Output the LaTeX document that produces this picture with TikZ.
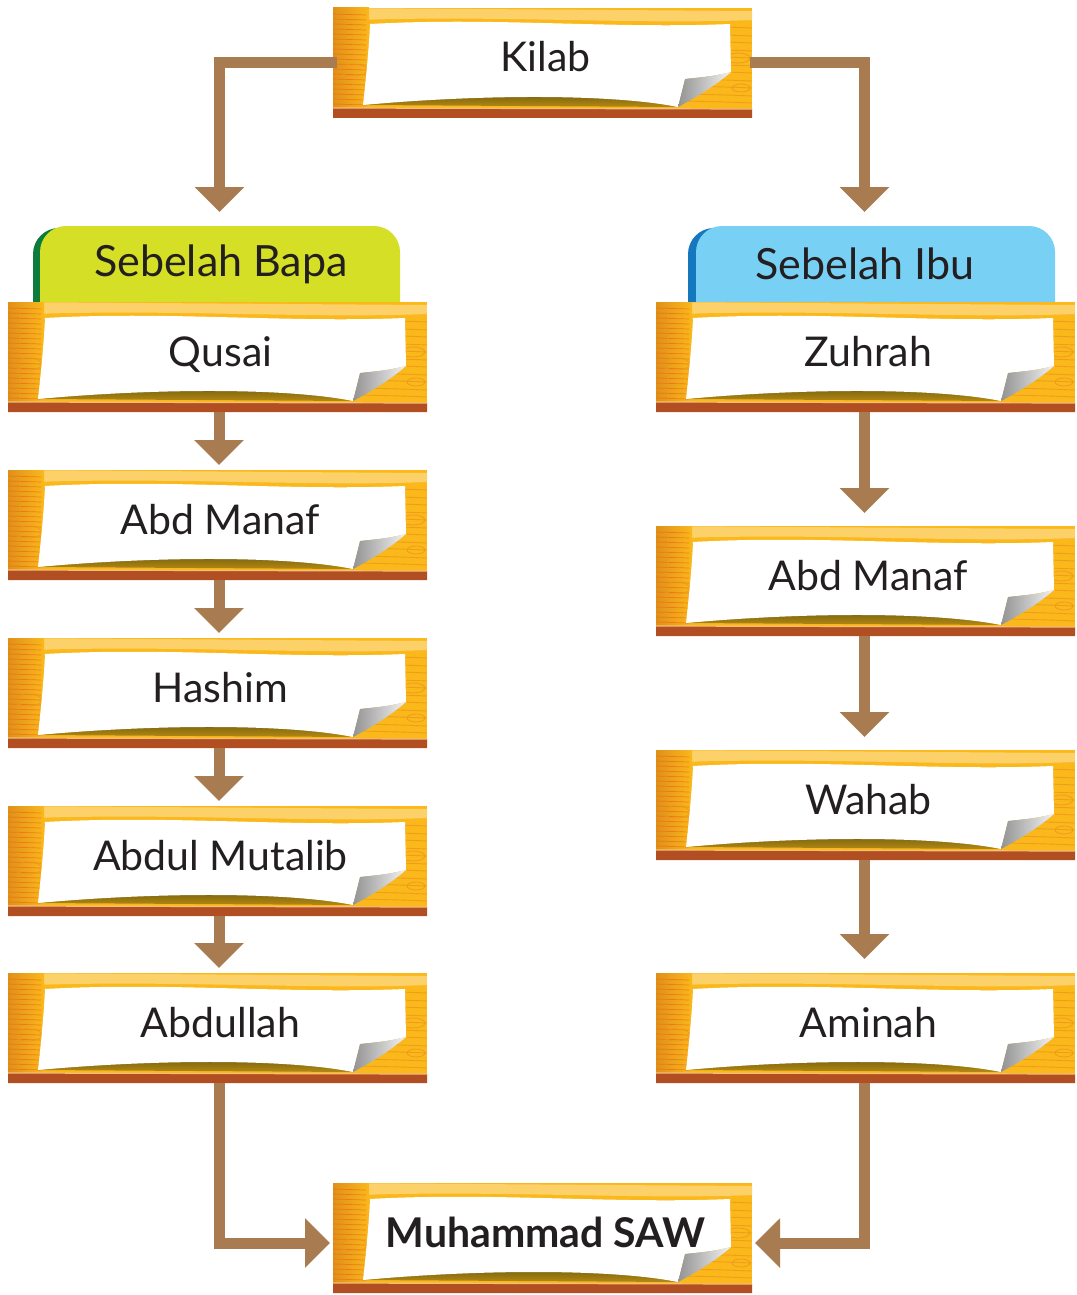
\documentclass[tikz,border=0pt]{standalone}
\usepackage{fontspec}
\setmainfont{Lato}
\usetikzlibrary{arrows.meta,calc}
\definecolor{wood}{HTML}{FAB81B}
\definecolor{woodlight}{HTML}{FDD16A}
\definecolor{grain}{HTML}{EE931C}
\definecolor{woodend}{HTML}{E0901A}
\definecolor{woodedge}{HTML}{B24F22}
\definecolor{olive}{HTML}{6E5B0C}
\definecolor{arrowc}{HTML}{A97B50}
\definecolor{tabgreen}{HTML}{D5DF26}
\definecolor{tabgreendk}{HTML}{0C7B3B}
\definecolor{tabblue}{HTML}{78D0F5}
\definecolor{tabbluedk}{HTML}{1577BD}
\definecolor{ink}{HTML}{231F20}

% wooden board art, local coordinates 0..419 x 0..110 (y downwards)
\newcommand\woodart{%
    \fill[wood] (0,0) rectangle (419,110);
    \fill[woodlight] (0,0) -- (419,3) -- (419,12) .. controls (300,17) and (150,6) .. (0,13) -- cycle;
    \foreach \yy in {18,26,33,41,48,56,63,71,78,86,93} {
      \draw[grain, line width=0.9pt, opacity=.75] (0,\yy) .. controls (140,\yy+4) and (280,\yy-4) .. (419,\yy+2);
    }
    \shade[left color=woodend, right color=wood] (0,0) rectangle (36,101);
    \foreach \yy in {6,11,...,96} { \draw[grain!70!red, line width=.7pt, opacity=.7] (0,\yy) -- (33,\yy+1); }
    \draw[grain, line width=.8pt, opacity=.8] (20,62) ellipse (14 and 6);
    \draw[grain, line width=.8pt, opacity=.8] (405,50) ellipse (12 and 5);
    \draw[grain, line width=.8pt, opacity=.8] (408,80) ellipse (9 and 4);
    \fill[woodedge] (0,100) -- (419,101) -- (419,110) -- (0,110) -- cycle;
    \draw[grain!60!white, line width=1.2pt] (0,100) -- (419,101);
    \shade[top color=olive, bottom color=olive!50!wood] (30,97) .. controls (150,84) and (280,84) .. (345,99) -- cycle;
    \fill[white] (37,16) .. controls (160,9) and (280,21) .. (397,16) -- (398,64)
      .. controls (380,68) .. (352,71) -- (345,99) .. controls (280,86) and (150,86) .. (30,97)
      .. controls (33,70) and (36,40) .. cycle;
    \shade[left color=gray!85, right color=gray!10] (352,71) .. controls (380,68) .. (398,64)
      .. controls (382,78) and (362,90) .. (345,99) -- cycle;
}
% \woodboard[style]{name}{cx}{cy}{text}
\newcommand\woodboard[5][board]{%
  \begin{scope}[shift={(#3-209.5,#4-55)}]\woodart\end{scope}
  \node[#1] (#2) at (#3,#4) {\hspace*{6pt}#5};
}

\tikzset{
  board/.style={minimum width=419pt, minimum height=110pt, inner sep=0pt, outer sep=0pt,
    text=ink, font=\fontsize{41}{48}\selectfont, text height=29pt, text depth=11pt},
  boardbold/.style={board, font=\fontsize{41}{48}\selectfont\bfseries},
  tabtext/.style={inner sep=0pt, text=ink, font=\fontsize{43}{50}\selectfont},
  arr/.style={draw=arrowc, line width=11pt, -{Triangle[width=48pt,length=25pt]}},
}

\begin{document}
\begin{tikzpicture}[x=1pt, y=-1pt]
\useasboundingbox (0,0) rectangle (1076,1295);
\fill[white] (0,0) rectangle (1076,1295);

% coordinates for arrow ends
\coordinate (bapatop) at (219.5,212);
\coordinate (ibutop) at (864.5,212);

% tabs
\fill[tabgreendk, rounded corners=26pt] (33,228) rectangle (392,330);
\fill[tabgreen, rounded corners=26pt] (40,226) rectangle (400,330);
\node[tabtext] (bapa) at (221,264) {Sebelah Bapa};
\fill[tabbluedk, rounded corners=26pt] (688,228) rectangle (1047,330);
\fill[tabblue, rounded corners=26pt] (696,226) rectangle (1055,330);
\node[tabtext] (ibu) at (865,264) {Sebelah Ibu};

% boards
\woodboard{kilab}{542.5}{63}{Kilab}
\woodboard{qusai}{217.5}{357}{Qusai}
\woodboard{abdmanafL}{217.5}{525}{Abd Manaf}
\woodboard{hashim}{217.5}{693}{Hashim}
\woodboard{mutalib}{217.5}{861}{Abdul Mutalib}
\woodboard{abdullah}{217.5}{1028}{Abdullah}
\woodboard{zuhrah}{865.5}{357}{Zuhrah}
\woodboard{abdmanafR}{865.5}{581}{Abd Manaf}
\woodboard{wahab}{865.5}{805}{Wahab}
\woodboard{aminah}{865.5}{1028}{Aminah}
\woodboard[boardbold]{muhammad}{542.5}{1238}{Muhammad SAW}

% connectors
\draw[arr] ([xshift=4pt]kilab.west) -| (bapatop);
\draw[arr] ([xshift=-2pt]kilab.east) -| (ibutop);
\draw[arr] ([xshift=1.5pt]qusai.south) -- ([xshift=1.5pt,yshift=5pt]abdmanafL.north);
\draw[arr] ([xshift=1.5pt]abdmanafL.south) -- ([xshift=1.5pt,yshift=5pt]hashim.north);
\draw[arr] ([xshift=1.5pt]hashim.south) -- ([xshift=1.5pt,yshift=5pt]mutalib.north);
\draw[arr] ([xshift=1.5pt]mutalib.south) -- ([xshift=1.5pt,yshift=5pt]abdullah.north);
\draw[arr] ([xshift=-1pt]zuhrah.south) -- ([xshift=-1pt,yshift=13pt]abdmanafR.north);
\draw[arr] ([xshift=-1pt]abdmanafR.south) -- ([xshift=-1pt,yshift=13pt]wahab.north);
\draw[arr] ([xshift=-1pt]wahab.south) -- ([xshift=-1pt,yshift=14pt]aminah.north);
\draw[arr] ([xshift=1.5pt]abdullah.south) |- ([xshift=-3pt,yshift=-5pt]muhammad.west);
\draw[arr] ([xshift=-1pt]aminah.south) |- ([xshift=3pt,yshift=-5pt]muhammad.east);
\end{tikzpicture}
\end{document}
